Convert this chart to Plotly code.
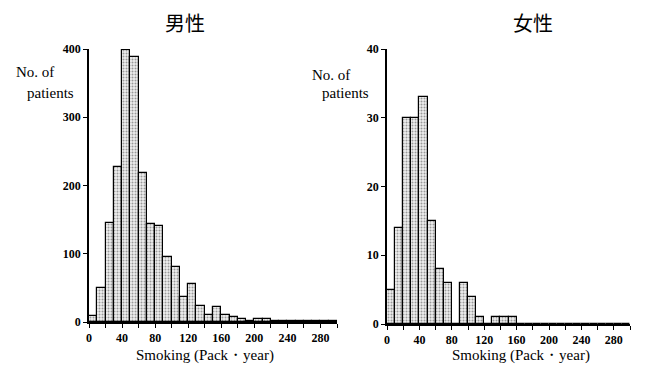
import plotly.graph_objects as go

# Data
bin_left = [0, 10, 20, 30, 40, 50, 60, 70, 80, 90, 100, 110, 120, 130, 140,
            150, 160, 170, 180, 190, 200, 210, 220, 230, 240, 250, 260, 270, 280, 290]
male_counts = [9, 50, 145, 227, 399, 388, 219, 143, 141, 95, 80, 36, 55, 24, 10,
               22, 10, 7, 5, 2, 5, 5, 1, 1, 2, 1, 1, 1, 2, 2]
female_counts = [5, 14, 30, 30, 33, 15, 8, 6, 0, 6, 4, 1, 0, 1, 1,
                 1, 0, 0, 0, 0, 0, 0, 0, 0, 0, 0, 0, 0, 0, 0]
x_ticks = [0, 40, 80, 120, 160, 200, 240, 280]
male_yticks = [0, 100, 200, 300, 400]
female_yticks = [0, 10, 20, 30, 40]
titles = ["男性", "女性"]
ylabel_lines = ["No. of", "patients"]
xlabel = "Smoking (Pack・year)"

W, H = 646, 374
fig = go.Figure()

serif = "Liberation Serif, Times New Roman, serif"


def bars(counts, xa, ya):
    fig.add_trace(go.Bar(
        x=bin_left, y=counts, width=[10] * len(bin_left), offset=0,
        xaxis=xa, yaxis=ya,
        marker=dict(
            color="#d8d8d8",
            line=dict(color="black", width=1.2),
            pattern=dict(shape=".", fgcolor="#444444", bgcolor="#eeeeee",
                         size=3, solidity=0.35),
        ),
        showlegend=False, hoverinfo="skip",
    ))


bars(male_counts, "x", "y")
bars(female_counts, "x2", "y2")


def px_x(p):
    return p / W


def px_y(p):
    return 1 - p / H


axis_common = dict(
    showline=True, linecolor="black", linewidth=1.5, showgrid=False,
    zeroline=False, ticks="outside", ticklen=4, tickwidth=1.2, tickcolor="black",
    automargin=False,
    tickfont=dict(family=serif, size=12, color="black", weight="bold"),
)

minor = dict(dtick=20, ticks="outside", ticklen=4, tickcolor="black", tickwidth=1.2)

fig.update_layout(
    width=W, height=H,
    margin=dict(l=0, r=0, t=0, b=0),
    paper_bgcolor="white", plot_bgcolor="white",
    bargap=0,
    xaxis=dict(domain=[px_x(89), px_x(337)], range=[0, 300], anchor="y",
               tickvals=x_ticks, minor=minor, **axis_common),
    yaxis=dict(domain=[px_y(322), px_y(49)], range=[0, 400], anchor="x",
               tickvals=male_yticks, **axis_common),
    xaxis2=dict(domain=[px_x(387), px_x(630)], range=[0, 300], anchor="y2",
                tickvals=x_ticks, minor=minor, **axis_common),
    yaxis2=dict(domain=[px_y(324), px_y(49)], range=[0, 40], anchor="x2",
                tickvals=female_yticks, **axis_common),
)

ann = []
for t, cx in zip(titles, [185, 533]):
    ann.append(dict(text=t, x=px_x(cx), y=px_y(22), xref="paper", yref="paper",
                    showarrow=False, font=dict(family="Noto Sans CJK JP", size=20, color="black"),
                    xanchor="center", yanchor="middle"))
for (x1, y1, x2, y2) in [(14, 72, 25, 93), (310, 75, 320, 93)]:
    ann.append(dict(text=ylabel_lines[0], x=px_x(x1), y=px_y(y1), xref="paper", yref="paper",
                    showarrow=False, font=dict(family=serif, size=15, color="black"),
                    xanchor="left", yanchor="middle"))
    ann.append(dict(text=ylabel_lines[1], x=px_x(x2), y=px_y(y2), xref="paper", yref="paper",
                    showarrow=False, font=dict(family=serif, size=15, color="black"),
                    xanchor="left", yanchor="middle"))
for cx in [205, 521]:
    ann.append(dict(text=xlabel, x=px_x(cx), y=px_y(355), xref="paper", yref="paper",
                    showarrow=False, font=dict(family=serif, size=15, color="black"),
                    xanchor="center", yanchor="middle"))
fig.update_layout(annotations=ann)

fig.write_html("out.html", config={"displayModeBar": False},
               post_script="document.body.style.margin='0';document.body.style.padding='0';")
